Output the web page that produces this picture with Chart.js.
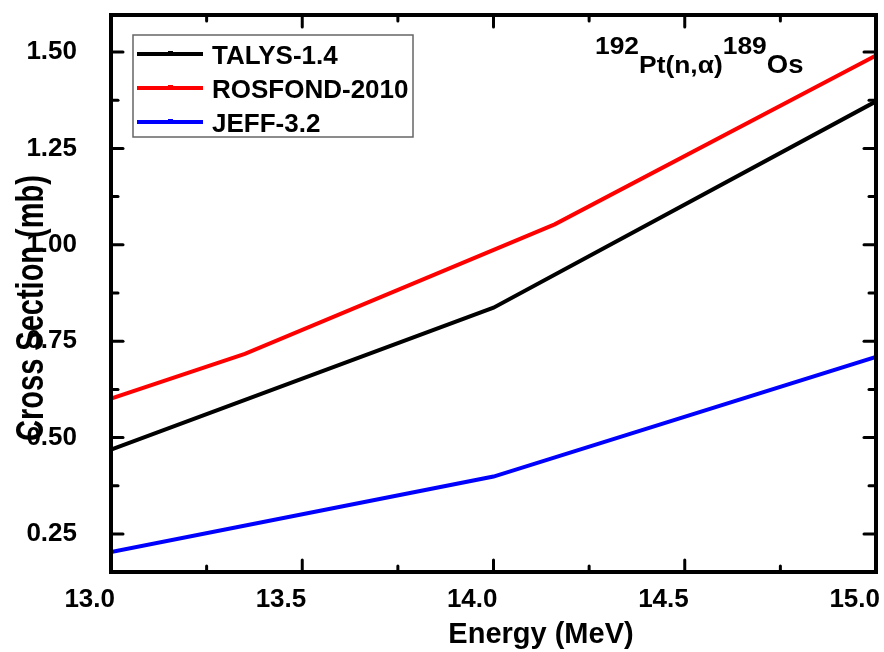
<!DOCTYPE html>
<html>
<head>
<meta charset="utf-8">
<script src="https://cdn.jsdelivr.net/npm/chart.js@4"></script>
<style>
  html, body { margin: 0; padding: 0; background: #fff; }
  canvas { display: block; }
</style>
</head>
<body>
<canvas id="xsChart" width="884" height="652"></canvas>
<script>
// Values
const energyTalys = [13.0, 14.0, 15.0];
const talys = [0.469, 0.837, 1.372];
const energyRosfond = [13.0, 13.35, 14.16, 15.0];
const rosfond = [0.601, 0.717, 1.053, 1.491];
const energyJeff = [13.0, 14.0, 15.0];
const jeff = [0.203, 0.399, 0.709];

const xTicks = [13.0, 13.5, 14.0, 14.5, 15.0];
const yTicks = [0.25, 0.50, 0.75, 1.00, 1.25, 1.50];

const FONT = "'Liberation Sans', Arial, sans-serif";

function pts(xs, ys) {
    return xs.map((x, i) => ({ x: x, y: ys[i] }));
}

// frame, inward ticks, legend box and reaction label
const decorations = {
    id: "decorations",
    afterDraw(chart) {
        const c = chart.ctx;
        const a = chart.chartArea;
        const sx = chart.scales.x, sy = chart.scales.y;
        c.save();
        c.strokeStyle = "#000";
        c.lineCap = "round";

        // ticks
        c.lineWidth = 3;
        const tick = (x1, y1, x2, y2) => { c.beginPath(); c.moveTo(x1, y1); c.lineTo(x2, y2); c.stroke(); };
        for (let i = 0; i < xTicks.length; i++) {
            const px = sx.getPixelForValue(xTicks[i]);
            tick(px, a.bottom, px, a.bottom - 12);
            tick(px, a.top, px, a.top + 12);
            if (i < xTicks.length - 1) {
                const mx = sx.getPixelForValue((xTicks[i] + xTicks[i + 1]) / 2);
                tick(mx, a.bottom, mx, a.bottom - 6);
                tick(mx, a.top, mx, a.top + 6);
            }
        }
        for (let i = 0; i < yTicks.length; i++) {
            const py = sy.getPixelForValue(yTicks[i]);
            tick(a.left, py, a.left + 12, py);
            tick(a.right, py, a.right - 12, py);
            if (i < yTicks.length - 1) {
                const my = sy.getPixelForValue((yTicks[i] + yTicks[i + 1]) / 2);
                tick(a.left, my, a.left + 7, my);
                tick(a.right, my, a.right - 7, my);
            }
        }

        // frame
        c.lineWidth = 4;
        c.lineCap = "butt";
        c.strokeRect(a.left, a.top, a.right - a.left, a.bottom - a.top);

        // axis titles
        c.fillStyle = "#000";
        c.font = "bold 29px " + FONT;
        c.textAlign = "center";
        c.textBaseline = "alphabetic";
        c.fillText("Energy (MeV)", 541, 643);
        c.save();
        c.translate(43, 308);
        c.rotate(-Math.PI / 2);
        c.scale(1, 1.35);
        c.fillText("Cross Section (mb)", 0, 0);
        c.restore();

        // legend
        c.lineWidth = 1.5;
        c.strokeStyle = "#666";
        c.strokeRect(133, 35, 280, 102);
        c.font = "bold 26px " + FONT;
        c.textAlign = "left";
        const rows = [54, 88, 122];
        chart.data.datasets.forEach((ds, i) => {
            const y = rows[i];
            c.strokeStyle = ds.borderColor;
            c.lineWidth = 4;
            c.beginPath(); c.moveTo(137, y); c.lineTo(203, y); c.stroke();
            c.fillStyle = ds.borderColor;
            c.fillRect(168, y - 3, 5, 5);
            c.fillStyle = "#000";
            c.fillText(ds.label, 212, y + 10);
        });

        // reaction label
        c.save();
        c.translate(595, 0);
        c.scale(1.1, 1);
        c.fillStyle = "#000";
        let x = 0;
        const part = (txt, size, base) => {
            c.font = "bold " + size + "px " + FONT;
            c.fillText(txt, x, base);
            x += c.measureText(txt).width;
        };
        part("192", 24, 54);
        part("Pt(n,\u03b1)", 24, 73);
        part("189", 24, 54);
        part("Os", 25, 73);
        c.restore();

        c.restore();
    }
};

const ctx = document.getElementById("xsChart").getContext("2d");
new Chart(ctx, {
    type: "line",
    data: {
        datasets: [
            { label: "TALYS-1.4", data: pts(energyTalys, talys), borderColor: "#000000" },
            { label: "ROSFOND-2010", data: pts(energyRosfond, rosfond), borderColor: "#ff0000" },
            { label: "JEFF-3.2", data: pts(energyJeff, jeff), borderColor: "#0000ff" }
        ]
    },
    options: {
        responsive: false,
        animation: false,
        elements: {
            line: { borderWidth: 4, tension: 0, fill: false },
            point: { radius: 0 }
        },
        layout: { padding: { left: 11, right: 8, top: 15, bottom: 10 } },
        plugins: { legend: { display: false }, tooltip: { enabled: false } },
        scales: {
            x: {
                type: "linear",
                min: 13,
                max: 15,
                grid: { display: false },
                border: { display: false },
                afterBuildTicks: s => { s.ticks = xTicks.map(v => ({ value: v })); },
                afterFit: s => {
                    s.height = 70;
                    s.paddingLeft = 0; s.paddingRight = 0;
                    s.paddingTop = 0; s.paddingBottom = 0;
                },
                ticks: {
                    align: "end",
                    labelOffset: 4,
                    padding: 4,
                    maxRotation: 0,
                    color: "#000",
                    font: { family: FONT, weight: "bold", size: 26 },
                    callback: v => v.toFixed(1)
                }
            },
            y: {
                min: 0.1515,
                max: 1.596,
                grid: { display: false },
                border: { display: false },
                afterBuildTicks: s => { s.ticks = yTicks.map(v => ({ value: v })); },
                afterFit: s => {
                    s.width = 100;
                    s.paddingLeft = 0; s.paddingRight = 0;
                    s.paddingTop = 0; s.paddingBottom = 0;
                },
                ticks: {
                    padding: 26,
                    color: "#000",
                    font: { family: FONT, weight: "bold", size: 26 },
                    callback: v => v.toFixed(2)
                }
            }
        }
    },
    plugins: [decorations]
});
</script>
</body>
</html>
